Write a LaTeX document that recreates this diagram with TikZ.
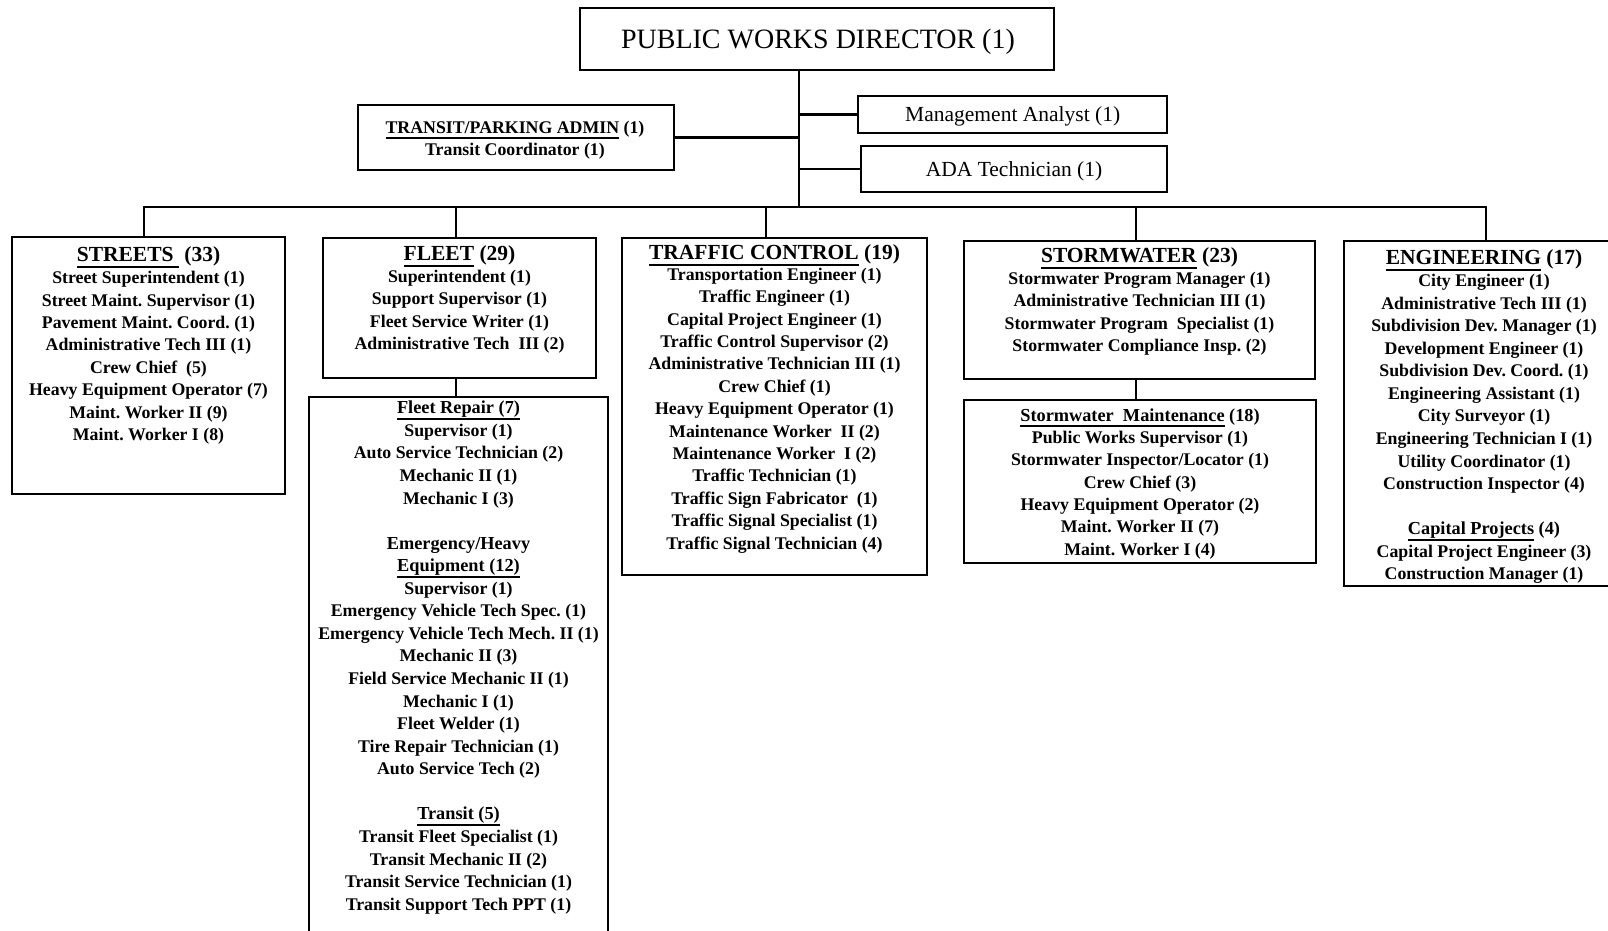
\documentclass[tikz,border=0pt]{standalone}
\usepackage{fontspec}
\setmainfont{Liberation Serif}
\frenchspacing
\newcommand\ulbar[1]{\setbox0\hbox{#1}\rlap{\rule[\dimexpr-0.24em-1.5pt\relax]{\wd0}{1.5pt}}\box0\relax}
\tikzset{
  box/.style={draw, line width=2.3pt, inner sep=0pt, rectangle},
  conn/.style={line width=2.8pt, line join=miter},
  ln/.style={anchor=base, inner sep=0pt, font=\fontsize{17.8}{20}\selectfont\bfseries},
  sub/.style={anchor=base, inner sep=0pt, font=\fontsize{18.3}{20}\selectfont\bfseries},
  hd/.style={anchor=base, inner sep=0pt, font=\fontsize{21.5}{24}\selectfont\bfseries},
  big/.style={anchor=base, inner sep=0pt, font=\fontsize{28}{32}\selectfont},
  mid/.style={anchor=base, inner sep=0pt, font=\fontsize{21.5}{24}\selectfont},
}
\newcommand\colines[5]{%
  \foreach \txt [count=\i from 0] in {#5} {\node[ln] (#1-\i) at (#2,{#3+\i*#4}) {\txt};}}
\begin{document}
\begin{tikzpicture}[x=1pt,y=-1pt]
\useasboundingbox (0,0) rectangle (1608,931);
\clip (0,0) rectangle (1608,931);
% boxes
\node[box, minimum width=474pt, minimum height=62pt] (dir) at (817,39) {};
\node[box, minimum width=316pt, minimum height=65pt] (tp) at (516,137.5) {};
\node[box, minimum width=309pt, minimum height=37pt] (mgmt) at (1012.5,114.5) {};
\node[box, minimum width=306pt, minimum height=46pt] (ada) at (1014,169) {};
\node[box, minimum width=273pt, minimum height=257pt] (streets) at (148.5,365.5) {};
\node[box, minimum width=273pt, minimum height=140pt] (fleet) at (459.5,308) {};
\node[box, minimum width=299pt, minimum height=548pt] (fleetlow) at (458.5,671) {};
\node[box, minimum width=305pt, minimum height=337pt] (traffic) at (774.5,406.5) {};
\node[box, minimum width=351pt, minimum height=138pt] (storm) at (1139.5,310) {};
\node[box, minimum width=352pt, minimum height=163pt] (stormm) at (1140,481.5) {};
\node[box, minimum width=280pt, minimum height=345pt] (eng) at (1484,413.5) {};
% connectors
\coordinate (bus) at (799,207);
\coordinate (dS) at (144,207);
\coordinate (dF) at (456,207);
\coordinate (dT) at (766,207);
\coordinate (dW) at (1136,207);
\coordinate (dE) at (1486,207);
\draw[conn] (dir.south -| bus) -- (bus);
\draw[conn] (tp.east) -- (tp.east -| bus);
\draw[conn] (mgmt.west -| bus) -- (mgmt.west);
\draw[conn] (ada.west -| bus) -- (ada.west);
\draw[conn] (dS |- streets.north) -- (dS) -- (dE) -- (dE |- eng.north);
\draw[conn] (dF) -- (dF |- fleet.north);
\draw[conn] (dT) -- (dT |- traffic.north);
\draw[conn] (dW) -- (dW |- storm.north);
\draw[conn] (fleet.south -| dF) -- (fleetlow.north -| dF);
\draw[conn] (storm.south -| dW) -- (stormm.north -| dW);
% texts
\node[big] (dir-t) at (818,49) {PUBLIC WORKS DIRECTOR (1)};
\node[ln] (tp-h) at (515,133) {\ulbar{TRANSIT/PARKING ADMIN} (1)};
\node[ln] (tp-t) at (515,155.3) {Transit Coordinator (1)};
\node[mid] (mgmt-t) at (1012.7,122) {Management Analyst (1)};
\node[mid] (ada-t) at (1014,176) {ADA Technician (1)};
% streets
\node[hd] (streets-h) at (148.5,261) {\ulbar{STREETS\ }\ (33)};
\colines{streets}{148.5}{283.6}{22.41}{Street Superintendent (1), Street Maint. Supervisor (1), Pavement Maint. Coord. (1), Administrative Tech III (1), Crew Chief\ \ (5), Heavy Equipment Operator (7), Maint. Worker II (9), Maint. Worker I (8)}
% fleet
\node[hd] (fleet-h) at (459.5,260) {\ulbar{FLEET} (29)};
\colines{fleet}{459.5}{282.5}{22.4}{Superintendent (1), Support Supervisor (1), Fleet Service Writer (1), Administrative Tech\ \ III (2)}
% fleet lower
\node[sub] (fr-h) at (458.5,413.8) {\ulbar{Fleet Repair (7)}};
\colines{fr}{458.5}{436.4}{22.56}{Supervisor (1), Auto Service Technician (2), Mechanic II (1), Mechanic I (3)}
\node[sub] (feh-h1) at (458.5,549.2) {Emergency/Heavy};
\node[sub] (feh-h2) at (458.5,571.8) {\ulbar{Equipment (12)}};
\colines{feh}{458.5}{594.3}{22.56}{Supervisor (1), Emergency Vehicle Tech Spec. (1), Emergency Vehicle Tech Mech. II (1), Mechanic II (3), Field Service Mechanic II (1), Mechanic I (1), Fleet Welder (1), Tire Repair Technician (1), Auto Service Tech (2)}
\node[sub] (ftr-h) at (458.5,819.9) {\ulbar{Transit (5)}};
\colines{ftr}{458.5}{842.5}{22.56}{Transit Fleet Specialist (1), Transit Mechanic II (2), Transit Service Technician (1), Transit Support Tech PPT (1)}
% traffic
\node[hd] (traffic-h) at (774.5,259) {\ulbar{TRAFFIC CONTROL} (19)};
\colines{traffic}{774.5}{280.4}{22.39}{Transportation Engineer (1), Traffic Engineer (1), Capital Project Engineer (1), Traffic Control Supervisor (2), Administrative Technician III (1), Crew Chief (1), Heavy Equipment Operator (1), Maintenance Worker\ \ II (2), Maintenance Worker\ \ I (2), Traffic Technician (1), Traffic Sign Fabricator\ \ (1), Traffic Signal Specialist (1), Traffic Signal Technician (4)}
% stormwater
\node[hd] (storm-h) at (1139.5,262) {\ulbar{STORMWATER} (23)};
\colines{storm}{1139.5}{284.5}{22.4}{Stormwater Program Manager (1), Administrative Technician III (1), Stormwater Program\ \ Specialist (1), Stormwater Compliance Insp. (2)}
\node[sub] (stormm-h) at (1140,421) {\ulbar{Stormwater\ \ Maintenance} (18)};
\colines{stormm}{1140}{443.5}{22.36}{Public Works Supervisor (1), Stormwater Inspector/Locator (1), Crew Chief (3), Heavy Equipment Operator (2), Maint. Worker II (7), Maint. Worker I (4)}
% engineering
\node[hd] (eng-h) at (1484,264) {\ulbar{ENGINEERING} (17)};
\colines{eng}{1484}{286.6}{22.56}{City Engineer (1), Administrative Tech III (1), Subdivision Dev. Manager (1), Development Engineer (1), Subdivision Dev. Coord. (1), Engineering Assistant (1), City Surveyor (1), Engineering Technician I (1), Utility Coordinator (1), Construction Inspector (4)}
\node[sub] (cap-h) at (1484,534.8) {\ulbar{Capital Projects} (4)};
\colines{cap}{1484}{557.4}{22.56}{Capital Project Engineer (3), Construction Manager (1)}
\end{tikzpicture}
\end{document}
